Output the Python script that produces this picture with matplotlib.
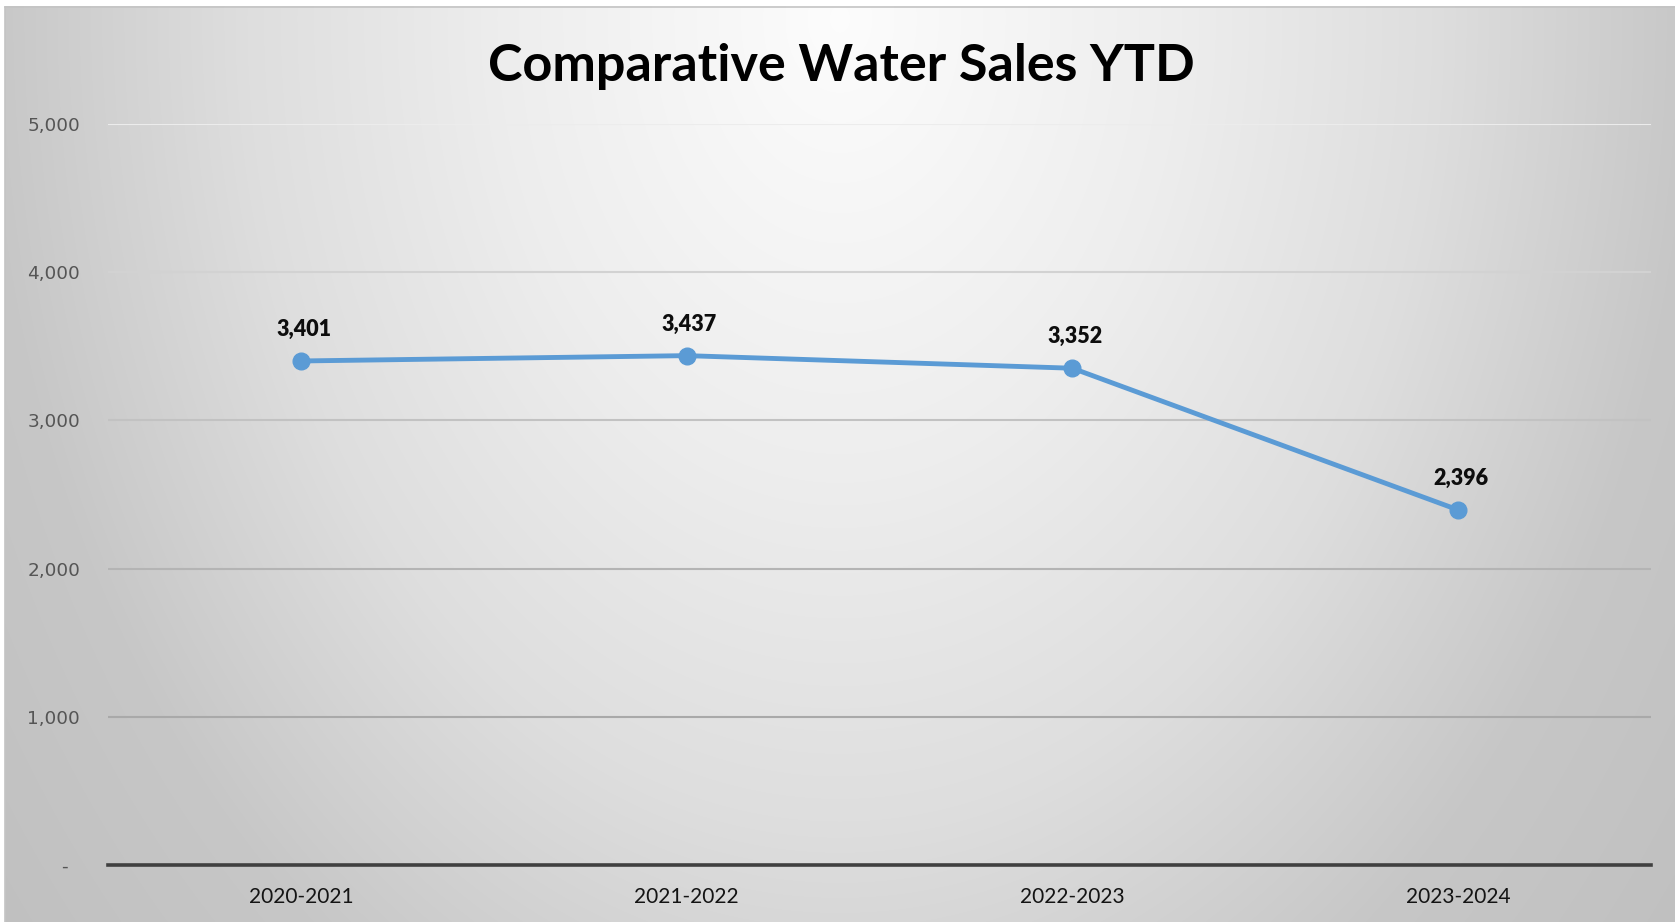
import numpy as np
import matplotlib
matplotlib.use("Agg")
import matplotlib.pyplot as plt
from matplotlib.ticker import FixedLocator, FuncFormatter

# Data
seasons = ["2020-2021", "2021-2022", "2022-2023", "2023-2024"]
sales = [3401, 3437, 3352, 2396]
y_ticks = [0, 1000, 2000, 3000, 4000, 5000]
title = "Comparative Water Sales YTD"

W, H, DPI = 1675, 922, 100
fig = plt.figure(figsize=(W / DPI, H / DPI), dpi=DPI, facecolor="white")

# Radial grey background of the chart area
bg = fig.add_axes([0, 0, 1, 1], zorder=0)
bg.set_xlim(0, W)
bg.set_ylim(H, 0)
bg.axis("off")
x0, y0 = 5, 7
xs = np.arange(x0, W) + 0.5
ys = np.arange(y0, H) + 0.5
X, Y = np.meshgrid(xs, ys)
r = np.sqrt(((X - 840) / 850.0) ** 2 + ((Y - 20) / 1150.0) ** 2)
v = np.interp(r, [0.0, 0.4, 0.7, 1.0, 1.4], [0.99, 0.93, 0.87, 0.78, 0.74])
img = np.dstack([v, v, v])
bg.imshow(img, extent=(x0, W, H, y0), aspect="auto", interpolation="bilinear")
bg.plot([x0, W], [y0, y0], color="#c4c4c4", lw=1.2)
bg.plot([x0, x0], [y0, H], color="#c4c4c4", lw=1.2)

# Plot area
ax = fig.add_axes([108 / W, 1 - 865 / H, (1651 - 108) / W, (865 - 124) / H], zorder=2)
ax.set_facecolor("none")
xpos = np.arange(len(seasons))
ax.set_xlim(-0.5, len(seasons) - 0.5)
ax.set_ylim(0, 5000)

grid_colors = {1000: "#a9a9a9", 2000: "#b4b4b4", 3000: "#c2c2c2", 4000: "#d2d2d2", 5000: "#ececec"}
for t in y_ticks[1:]:
    ax.axhline(t, color=grid_colors[t], lw=1.5, zorder=1)

for s in ["top", "right", "left"]:
    ax.spines[s].set_visible(False)
ax.spines["bottom"].set_color("#404040")
ax.spines["bottom"].set_linewidth(2.6)

ax.plot(xpos, sales, color="#5b9bd5", lw=3.5, marker="o", markersize=12,
        solid_capstyle="round", zorder=3, clip_on=False)

for xi, val in zip(xpos, sales):
    ax.annotate(f"{val:,}", (xi, val), xytext=(2, 18), textcoords="offset points",
                ha="center", va="baseline", fontsize=15.5, fontweight="heavy",
                family="Lato", color="#0d0d0d", zorder=4)

ax.xaxis.set_major_locator(FixedLocator(xpos))
ax.set_xticklabels(seasons, family="Lato", fontsize=15, color="#141414")
ax.yaxis.set_major_locator(FixedLocator(y_ticks))
ax.yaxis.set_major_formatter(FuncFormatter(lambda v, p: "-  " if v == 0 else f"{int(v):,}"))
for lab in ax.get_yticklabels():
    lab.set_family("DejaVu Sans")
ax.tick_params(axis="y", length=0, pad=20, labelsize=13.3, labelcolor="#555555")
ax.tick_params(axis="x", length=0, pad=16)

fig.text(841 / W, 1 - 81 / H, title, ha="center", va="baseline",
         fontsize=37.5, fontweight="bold", family="Lato", color="black")

fig.savefig("out.png", dpi=DPI, facecolor="white")
